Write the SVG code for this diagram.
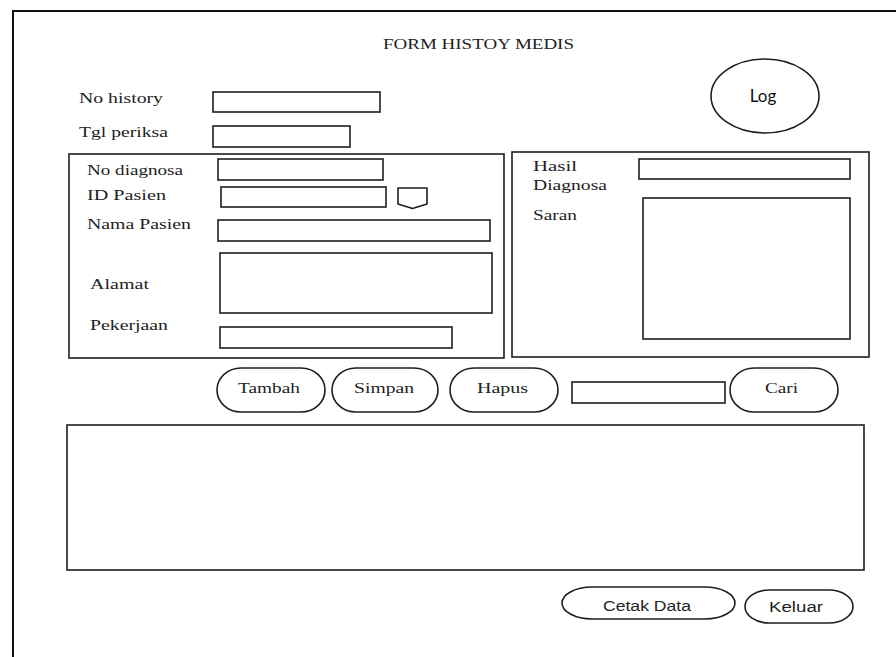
<svg xmlns="http://www.w3.org/2000/svg" width="896" height="657" viewBox="0 0 896 657">
  <style>
    .box { fill: #ffffff; stroke: #1e1e1e; stroke-width: 1.6; }
    .frame { fill: none; stroke: #111111; stroke-width: 2; }
    .lbl { font-family: "Liberation Serif", "Times New Roman", serif; font-size: 14px; fill: #222222; }
    .btn { font-family: "Liberation Serif", "Times New Roman", serif; font-size: 14px; fill: #222222; text-anchor: start; }
    .sans { font-family: "Liberation Sans", Arial, sans-serif; font-size: 14px; fill: #222222; }
    .log { font-family: Lato, "Open Sans", sans-serif; font-size: 17px; fill: #111111; text-anchor: middle; }
  </style>
  <defs>
    <!-- pill-shaped push button, 108 x 44 -->
    <rect id="pill" x="0" y="0" width="108" height="44" rx="24" ry="22" class="box"/>
  </defs>

  <rect width="896" height="657" fill="#ffffff"/>

  <!-- window frame -->
  <g id="window">
    <path class="frame" d="M13,657 V11 H896"/>
  </g>

  <g id="title">
    <text class="lbl" x="383" y="49" font-size="15" textLength="191" lengthAdjust="spacingAndGlyphs">FORM HISTOY MEDIS</text>
  </g>

  <g id="log">
    <ellipse class="box" cx="765" cy="96" rx="54" ry="37"/>
    <text class="log" x="763" y="102">Log</text>
  </g>

  <g id="no-history">
    <text class="lbl" x="79" y="103" textLength="84" lengthAdjust="spacingAndGlyphs">No history</text>
    <rect class="box" x="213" y="92" width="167" height="20"/>
  </g>

  <g id="tgl-periksa">
    <text class="lbl" x="79" y="137" textLength="89" lengthAdjust="spacingAndGlyphs">Tgl periksa</text>
    <rect class="box" x="213" y="126" width="137" height="21"/>
  </g>

  <!-- patient panel -->
  <g id="panel-pasien">
    <rect class="box" x="69" y="154" width="435" height="204"/>
  </g>

  <g id="no-diagnosa">
    <text class="lbl" x="87" y="175" textLength="96" lengthAdjust="spacingAndGlyphs">No diagnosa</text>
    <rect class="box" x="218" y="159" width="165" height="21"/>
  </g>

  <g id="id-pasien">
    <text class="lbl" x="87" y="200" textLength="79" lengthAdjust="spacingAndGlyphs">ID Pasien</text>
    <rect class="box" x="221" y="187" width="165" height="20"/>
    <path class="box" stroke-linejoin="round" d="M398,188 H427 V204 L412.5,208.5 L398,204 Z"/>
  </g>

  <g id="nama-pasien">
    <text class="lbl" x="87" y="229" textLength="104" lengthAdjust="spacingAndGlyphs">Nama Pasien</text>
    <rect class="box" x="218" y="220" width="272" height="21"/>
  </g>

  <g id="alamat">
    <text class="lbl" x="90" y="289" textLength="59" lengthAdjust="spacingAndGlyphs">Alamat</text>
    <rect class="box" x="220" y="253" width="272" height="60"/>
  </g>

  <g id="pekerjaan">
    <text class="lbl" x="90" y="330" textLength="78" lengthAdjust="spacingAndGlyphs">Pekerjaan</text>
    <rect class="box" x="220" y="327" width="232" height="21"/>
  </g>

  <!-- diagnosis panel -->
  <g id="panel-diagnosa">
    <rect class="box" x="512" y="152" width="357" height="205"/>
  </g>

  <g id="hasil-diagnosa">
    <text class="lbl" x="533" y="171" textLength="44" lengthAdjust="spacingAndGlyphs">Hasil</text>
    <text class="lbl" x="533" y="190" textLength="74" lengthAdjust="spacingAndGlyphs">Diagnosa</text>
    <rect class="box" x="639" y="159" width="211" height="20"/>
  </g>

  <g id="saran">
    <text class="lbl" x="533" y="220" textLength="44" lengthAdjust="spacingAndGlyphs">Saran</text>
    <rect class="box" x="643" y="198" width="207" height="141"/>
  </g>

  <!-- action buttons -->
  <g id="btn-tambah">
    <use href="#pill" x="217" y="368"/>
    <text class="btn" x="238" y="393" textLength="62" lengthAdjust="spacingAndGlyphs">Tambah</text>
  </g>

  <g id="btn-simpan">
    <rect class="box" x="332" y="368" width="106" height="44" rx="24" ry="22"/>
    <text class="btn" x="354" y="393" textLength="60" lengthAdjust="spacingAndGlyphs">Simpan</text>
  </g>

  <g id="btn-hapus">
    <use href="#pill" x="450" y="368"/>
    <text class="btn" x="477" y="393" textLength="51" lengthAdjust="spacingAndGlyphs">Hapus</text>
  </g>

  <g id="cari-input">
    <rect class="box" x="572" y="382" width="153" height="21"/>
  </g>

  <g id="btn-cari">
    <use href="#pill" x="730" y="368"/>
    <text class="btn" x="765" y="393" textLength="33" lengthAdjust="spacingAndGlyphs">Cari</text>
  </g>

  <!-- data grid -->
  <g id="grid">
    <rect class="box" x="67" y="425" width="797" height="145"/>
  </g>

  <g id="btn-cetak">
    <rect class="box" x="562" y="587" width="173" height="32" rx="30" ry="16"/>
    <text class="sans" x="603" y="611" textLength="88" lengthAdjust="spacingAndGlyphs">Cetak Data</text>
  </g>

  <g id="btn-keluar">
    <rect class="box" x="745" y="590" width="108" height="33" rx="24" ry="16.5"/>
    <text class="sans" x="769" y="612" textLength="54" lengthAdjust="spacingAndGlyphs">Keluar</text>
  </g>
</svg>
